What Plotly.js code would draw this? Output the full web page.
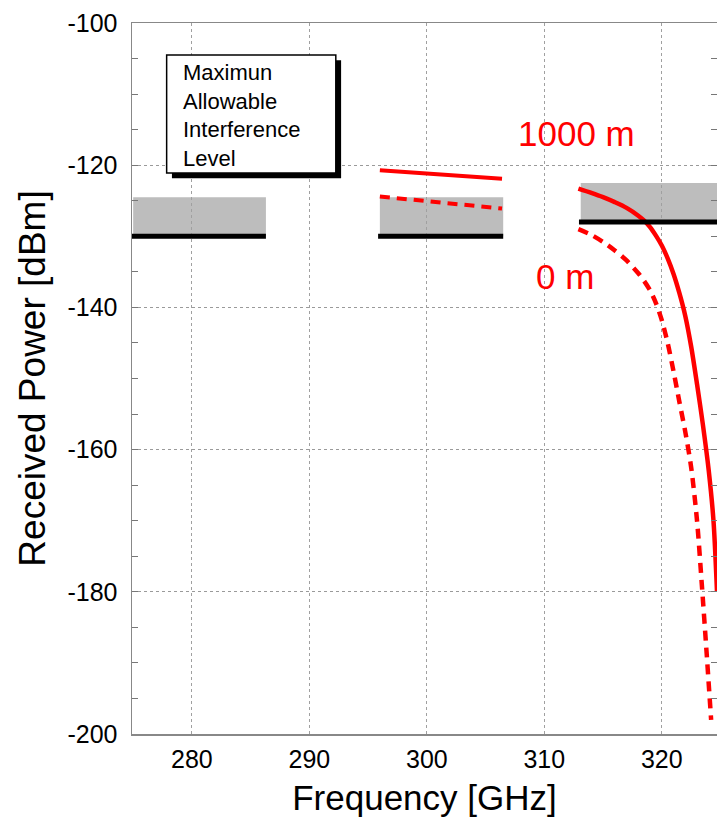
<!DOCTYPE html>
<html>
<head>
<meta charset="utf-8">
<script src="https://cdn.plot.ly/plotly-3.0.1.min.js"></script>
<style>html,body{margin:0;padding:0;background:#fff;}#chart{width:717px;height:830px;}</style>
</head>
<body>
<div id="chart"></div>
<script>
// ---- Data ----
// 1000 m curve (solid) in the middle band
const freq1000Low = [296.0, 306.4];
const pow1000Low = [-120.7, -121.9];
// 0 m curve (dashed) in the middle band
const freq0Low = [296.0, 306.4];
const pow0Low = [-124.4, -126.1];
// 1000 m curve in the upper band
const freq1000High = [312.9, 314, 315, 316, 317, 318, 318.5, 319, 319.5, 320, 320.5, 321, 321.5, 322, 322.5, 323, 323.5, 324, 324.4, 324.7];
const pow1000High = [-123.3, -123.9, -124.5, -125.2, -126.0, -127.1, -127.8, -128.7, -129.9, -131.3, -133.1, -135.3, -138.0, -141.2, -145.5, -150.8, -156.5, -163.0, -170.0, -180.0];
// 0 m curve in the upper band
const freq0High = [312.9, 314, 315, 316, 317, 318, 318.5, 319, 319.5, 320, 320.5, 321, 321.5, 322, 322.5, 323, 323.4, 323.8, 324.2];
const pow0High = [-129.0, -129.8, -130.8, -132.0, -133.4, -135.2, -136.3, -137.6, -139.4, -141.8, -145.0, -149.0, -153.3, -157.5, -162.5, -170.0, -178.8, -188.2, -198.0];
// Bands with maximum allowable interference level
const bandStart = [275.0, 296.0, 313.1];
const bandEnd = [286.3, 306.5, 324.7];
const bandTop = [-124.5, -124.5, -122.5];
const bandLimit = [-130, -130, -128];
// Labels
const legendLines = ['Maximun', 'Allowable', 'Interference', 'Level'];
const curveLabels = ['1000 m', '0 m'];
const xTickVals = [280, 290, 300, 310, 320];
const yTickVals = [-100, -120, -140, -160, -180, -200];

const FONT = 'Liberation Sans, Arial, Helvetica, sans-serif';
const RED = '#ff0000';

const traces = [
  {x: freq1000Low, y: pow1000Low, mode: 'lines', line: {color: RED, width: 4}},
  {x: freq0Low, y: pow0Low, mode: 'lines', line: {color: RED, width: 4, dash: '10px,7px'}},
  {x: freq1000High, y: pow1000High, mode: 'lines', line: {color: RED, width: 4.5, shape: 'spline', smoothing: 0.8}},
  {x: freq0High, y: pow0High, mode: 'lines', line: {color: RED, width: 4.5, dash: '10px,7px', shape: 'spline', smoothing: 0.8}}
];

const shapes = [];
for (let i = 0; i < bandStart.length; i++) {
  shapes.push({type: 'rect', xref: 'x', yref: 'y', x0: bandStart[i], x1: bandEnd[i],
    y0: bandLimit[i], y1: bandTop[i], fillcolor: '#bdbdbd', line: {width: 0}, layer: 'below'});
  shapes.push({type: 'line', xref: 'x', yref: 'y', x0: bandStart[i] - 0.15, x1: bandEnd[i],
    y0: bandLimit[i], y1: bandLimit[i], line: {color: '#000', width: 5}, layer: 'above'});
}
// legend-like box with shadow
const boxX0 = 277.85, boxX1 = 292.25, boxY0 = -121.1, boxY1 = -104.5;
shapes.push({type: 'rect', xref: 'x', yref: 'y', x0: boxX0 + 0.45, x1: boxX1 + 0.45,
  y0: boxY0 - 0.75, y1: boxY1 - 0.75, fillcolor: '#000', line: {width: 0}});
shapes.push({type: 'rect', xref: 'x', yref: 'y', x0: boxX0, x1: boxX1,
  y0: boxY0, y1: boxY1, fillcolor: '#fff', line: {color: '#000', width: 1.5}});

const annotations = [];
annotations.push({
  x: 279.1, y: -113.0, xref: 'x', yref: 'y', text: legendLines.join('<br>'), showarrow: false,
  xanchor: 'left', yanchor: 'middle', align: 'left', font: {family: FONT, size: 22, color: '#000'}
});
annotations.push({x: 312.75, y: -115.6, xref: 'x', yref: 'y', text: curveLabels[0], showarrow: false,
  xanchor: 'center', yanchor: 'middle', font: {family: FONT, size: 35, color: RED}});
annotations.push({x: 311.8, y: -135.6, xref: 'x', yref: 'y', text: curveLabels[1], showarrow: false,
  xanchor: 'center', yanchor: 'middle', font: {family: FONT, size: 35, color: RED}});

const layout = {
  width: 717, height: 830,
  margin: {l: 132, r: 0, t: 23, b: 96},
  paper_bgcolor: '#fff', plot_bgcolor: '#fff',
  showlegend: false,
  font: {family: FONT, color: '#000'},
  xaxis: {
    range: [274.9, 324.7], tickvals: xTickVals, ticktext: xTickVals.map(String),
    showgrid: true, gridcolor: '#a0a0a0', griddash: 'dot', gridwidth: 1,
    showline: true, linecolor: '#888', linewidth: 1.5, mirror: true,
    ticks: '', zeroline: false, ticklabelstandoff: 2,
    tickfont: {family: FONT, size: 25, color: '#000'},
    title: {text: 'Frequency [GHz]', font: {family: FONT, size: 35, color: '#000'}, standoff: 14}
  },
  yaxis: {
    range: [-200, -100], tickvals: yTickVals, ticktext: yTickVals.map(String),
    showgrid: true, gridcolor: '#9a9a9a', griddash: 'dot', gridwidth: 1,
    showline: true, linecolor: '#888', linewidth: 1.5, mirror: 'allticks',
    ticks: 'inside', ticklen: 6, tickcolor: '#777', tickwidth: 1,
    minor: {dtick: 5, ticks: 'inside', ticklen: 6, tickcolor: '#777', showgrid: false},
    zeroline: false, ticklabelstandoff: 8,
    tickfont: {family: FONT, size: 25, color: '#000'},
    title: {text: 'Received Power [dBm]', font: {family: FONT, size: 37, color: '#000'}, standoff: 10}
  },
  shapes: shapes,
  annotations: annotations
};

Plotly.newPlot('chart', traces, layout, {displayModeBar: false, staticPlot: true});
</script>
</body>
</html>
